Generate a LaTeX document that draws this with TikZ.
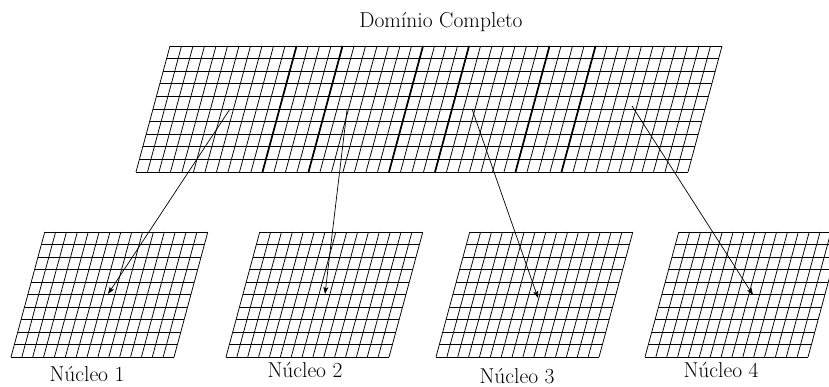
\documentclass[tikz,border=0pt]{standalone}
\usetikzlibrary{arrows.meta}
\begin{document}
\begin{tikzpicture}[x=1pt,y=1pt,
  gridline/.style={line width=0.75pt},
  boldline/.style={line width=1.7pt},
  feed/.style={line width=0.7pt,-{Stealth[length=7pt,width=5pt,inset=1.5pt]}},
  lbl/.style={font=\fontsize{21.5}{26}\selectfont, anchor=base, inner sep=0pt}]
\useasboundingbox (0,0) rectangle (829,387);
\clip (0,0) rectangle (829,387);
% full domain grid
\begin{scope}[shift={(136,215)}, xslant=0.27]
  \foreach \i in {0,...,48} \draw[gridline] (\i*11.5,0) -- (\i*11.5,126);
  \foreach \j in {0,...,10} \draw[gridline] (0,\j*12.6) -- (552,\j*12.6);
  \foreach \i in {11,15,22,26,33,37} \draw[boldline] (\i*11.5,0) -- (\i*11.5,126);
\end{scope}
% core grids
\foreach \gx in {11,226,436,645}{
  \begin{scope}[shift={(\gx,30)}, xslant=0.27]
    \foreach \i in {0,...,15} \draw[gridline] (\i*10.87,0) -- (\i*10.87,125);
    \foreach \j in {0,...,10} \draw[gridline] (0,\j*12.5) -- (163,\j*12.5);
  \end{scope}
}
% labels
\node[lbl] (title) at (441,359) {Domínio Completo};
\node[lbl] (n1) at (87,5) {Núcleo 1};
\node[lbl] (n2) at (305,9) {Núcleo 2};
\node[lbl] (n3) at (517,3) {Núcleo 3};
\node[lbl] (n4) at (721,9) {Núcleo 4};
% arrows
\coordinate (s1) at (230,278);
\coordinate (s2) at (347,277);
\coordinate (s3) at (472,278);
\coordinate (s4) at (632,281);
\coordinate (t1) at (108,93);
\coordinate (t2) at (325,93);
\coordinate (t3) at (538,89);
\coordinate (t4) at (753,92);
\draw[feed] (s1) -- (t1);
\draw[feed] (s2) -- (t2);
\draw[feed] (s3) -- (t3);
\draw[feed] (s4) -- (t4);
\end{tikzpicture}
\end{document}
